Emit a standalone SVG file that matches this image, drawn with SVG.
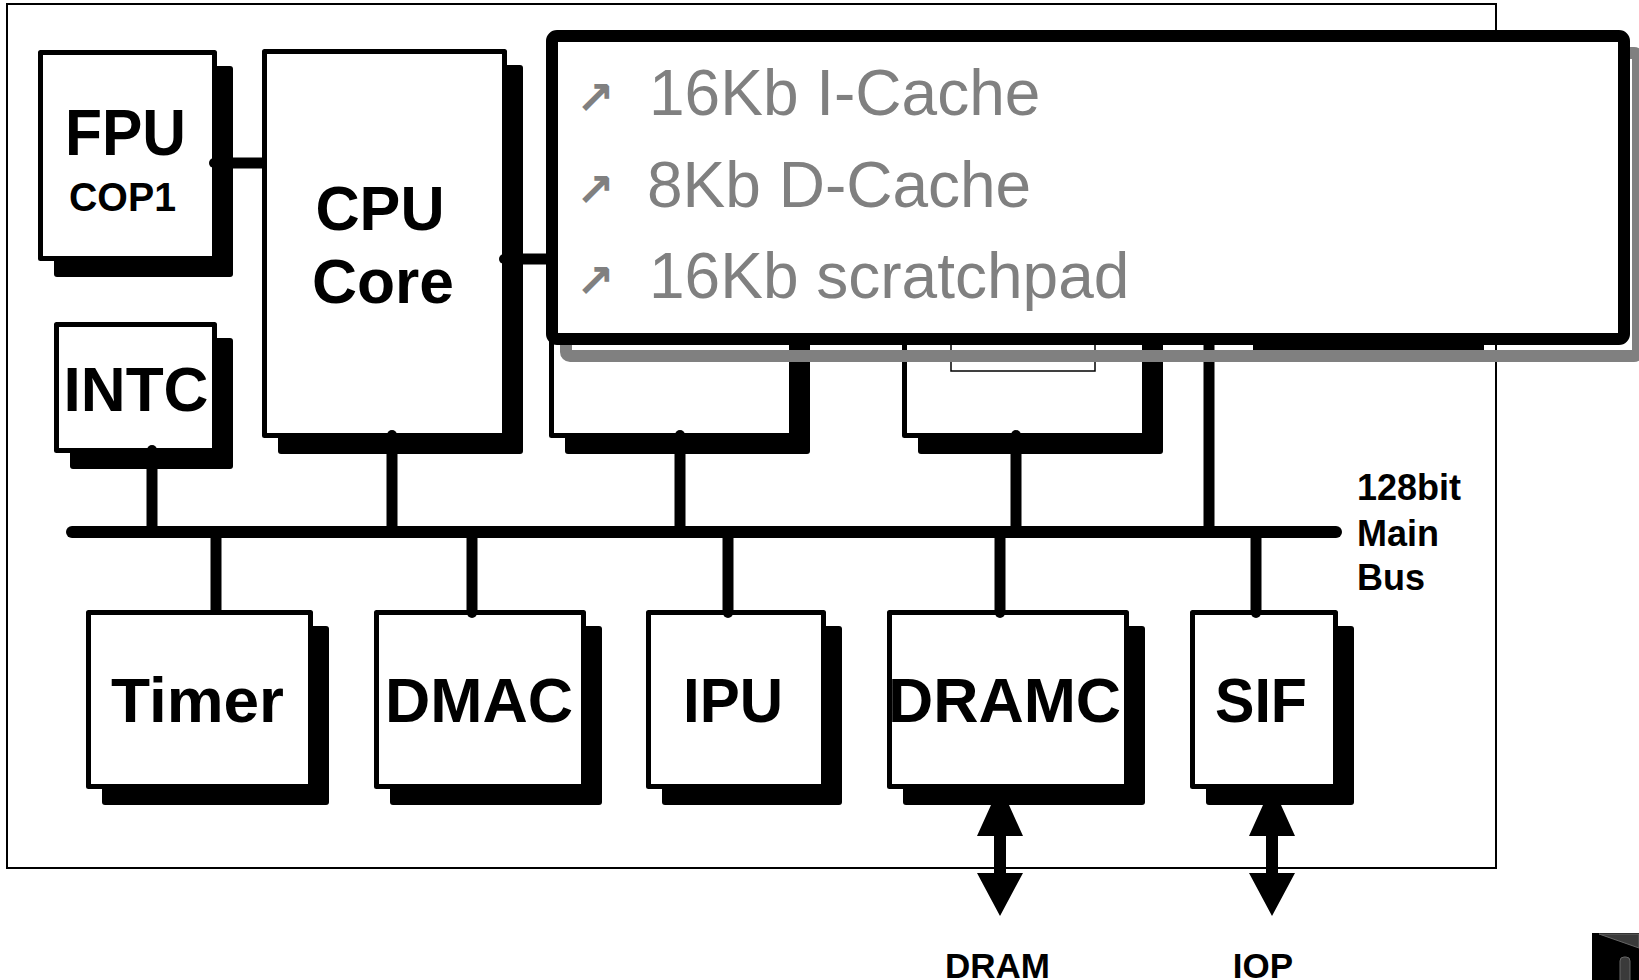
<svg xmlns="http://www.w3.org/2000/svg" width="1639" height="980" viewBox="0 0 1639 980">
<style>
.shadow{fill:#000}
.box{fill:#fff;stroke:#000;stroke-width:5;stroke-linejoin:round}
.lbl{font-family:"Liberation Sans",Arial,sans-serif;font-weight:bold;fill:#000;text-anchor:middle}
.side{font-family:"Liberation Sans",Arial,sans-serif;font-weight:bold;fill:#000;font-size:36px}
.wire{stroke:#000;stroke-width:11;fill:none}
.dot{fill:#000}
.item{font-family:"Liberation Sans",Arial,sans-serif;fill:#808080;font-size:64px}
.bul{font-family:"DejaVu Sans",sans-serif;font-weight:bold;fill:#808080;font-size:46px}
</style>
<defs>
<path id="dbl" d="M-9,805 L9,805 L23,836 L6,836 L6,873 L23,873 L0,916 L-23,873 L-6,873 L-6,836 L-23,836 Z" fill="#000"/>
</defs>
<rect x="7" y="4" width="1489" height="864" fill="#fff" stroke="#000" stroke-width="2"/>

<g id="fpu">
<rect class="shadow" x="54" y="66" width="179" height="211" rx="3"/>
<rect class="box" x="40.5" y="52.5" width="174" height="206"/>
<text class="lbl" x="125.5" y="155" font-size="65" textLength="121" lengthAdjust="spacingAndGlyphs">FPU</text>
<text class="lbl" x="122.5" y="211" font-size="41" textLength="107" lengthAdjust="spacingAndGlyphs">COP1</text>
</g>
<g id="cpu">
<rect class="shadow" x="278" y="65" width="245" height="389" rx="3"/>
<rect class="box" x="264.5" y="51.5" width="240" height="384"/>
<text class="lbl" x="380" y="230" font-size="63" textLength="129" lengthAdjust="spacingAndGlyphs">CPU</text>
<text class="lbl" x="383" y="303" font-size="63" textLength="142" lengthAdjust="spacingAndGlyphs">Core</text>
</g>
<g id="intc">
<rect class="shadow" x="70" y="338" width="163" height="131" rx="3"/>
<rect class="box" x="56.5" y="324.5" width="158" height="126"/>
<text class="lbl" x="136" y="411" font-size="63" textLength="145" lengthAdjust="spacingAndGlyphs">INTC</text>
</g>
<g id="box-a">
<rect class="shadow" x="565" y="65" width="245" height="389" rx="3"/>
<rect class="box" x="551.5" y="51.5" width="240" height="384"/>
</g>
<g id="box-b">
<rect class="shadow" x="918" y="65" width="245" height="389" rx="3"/>
<rect class="box" x="904.5" y="51.5" width="240" height="384"/>
<rect x="951" y="290" width="144" height="81" fill="none" stroke="#000" stroke-width="1.5"/>
</g>
<g id="hidden-strip">
<rect x="1253" y="330" width="231" height="22" fill="#000"/>
</g>
<g id="timer">
<rect class="shadow" x="102" y="626" width="227" height="179" rx="3"/>
<rect class="box" x="88.5" y="612.5" width="222" height="174"/>
<text class="lbl" x="197.5" y="722" font-size="63" textLength="173" lengthAdjust="spacingAndGlyphs">Timer</text>
</g>
<g id="dmac">
<rect class="shadow" x="390" y="626" width="212" height="179" rx="3"/>
<rect class="box" x="376.5" y="612.5" width="207" height="174"/>
<text class="lbl" x="479" y="722" font-size="63" textLength="188" lengthAdjust="spacingAndGlyphs">DMAC</text>
</g>
<g id="ipu">
<rect class="shadow" x="662" y="626" width="180" height="179" rx="3"/>
<rect class="box" x="648.5" y="612.5" width="175" height="174"/>
<text class="lbl" x="733" y="722" font-size="63" textLength="100" lengthAdjust="spacingAndGlyphs">IPU</text>
</g>
<g id="dramc">
<rect class="shadow" x="903" y="626" width="242" height="179" rx="3"/>
<rect class="box" x="889.5" y="612.5" width="237" height="174"/>
<text class="lbl" x="1004.5" y="722" font-size="63" textLength="233" lengthAdjust="spacingAndGlyphs">DRAMC</text>
</g>
<g id="sif">
<rect class="shadow" x="1206" y="626" width="148" height="179" rx="3"/>
<rect class="box" x="1192.5" y="612.5" width="143" height="174"/>
<text class="lbl" x="1261" y="722" font-size="63" textLength="92" lengthAdjust="spacingAndGlyphs">SIF</text>
</g>

<g id="connectors">
<line x1="72" y1="532" x2="1336" y2="532" stroke="#000" stroke-width="12" stroke-linecap="round"/>
<line class="wire" x1="214" y1="163" x2="264" y2="163"/>
<line class="wire" x1="504" y1="259" x2="552" y2="259"/>
<line class="wire" x1="152" y1="450" x2="152" y2="532"/>
<line class="wire" x1="392" y1="435" x2="392" y2="532"/>
<line class="wire" x1="680" y1="435" x2="680" y2="532"/>
<line class="wire" x1="1016" y1="435" x2="1016" y2="532"/>
<line class="wire" x1="1209" y1="330" x2="1209" y2="532"/>
<line class="wire" x1="216" y1="532" x2="216" y2="613"/>
<line class="wire" x1="472" y1="532" x2="472" y2="613"/>
<line class="wire" x1="728" y1="532" x2="728" y2="613"/>
<line class="wire" x1="1000" y1="532" x2="1000" y2="613"/>
<line class="wire" x1="1256" y1="532" x2="1256" y2="613"/>
<circle class="dot" cx="214" cy="163" r="5"/>
<circle class="dot" cx="504" cy="259" r="5"/>
<circle class="dot" cx="152" cy="450" r="5"/>
<circle class="dot" cx="392" cy="435" r="5"/>
<circle class="dot" cx="680" cy="435" r="5"/>
<circle class="dot" cx="1016" cy="435" r="5"/>
<circle class="dot" cx="472" cy="613" r="5"/>
<circle class="dot" cx="728" cy="613" r="5"/>
<circle class="dot" cx="1000" cy="613" r="5"/>
<circle class="dot" cx="1256" cy="613" r="5"/>
<use href="#dbl" x="1000" y="0"/>
<use href="#dbl" x="1272" y="0"/>
</g>

<g id="cache">
<rect x="566" y="53" width="1072" height="303" rx="4" fill="none" stroke="#808080" stroke-width="12"/>
<rect x="552" y="36" width="1072" height="303" rx="5" fill="#fff" stroke="#000" stroke-width="12"/>
<text class="bul" x="576" y="114">↗</text>
<text class="bul" x="576" y="206">↗</text>
<text class="bul" x="576" y="297">↗</text>
<text class="item" x="649" y="115">16Kb I-Cache</text>
<text class="item" x="647" y="207">8Kb D-Cache</text>
<text class="item" x="649" y="298">16Kb scratchpad</text>
</g>

<g id="bus-label">
<text class="side" x="1357" y="500">128bit</text>
<text class="side" x="1357" y="546">Main</text>
<text class="side" x="1357" y="590">Bus</text>
</g>
<g id="dram-label"><text class="lbl" x="997.5" y="978" font-size="35" textLength="105" lengthAdjust="spacingAndGlyphs">DRAM</text></g>
<g id="iop-label"><text class="lbl" x="1263" y="978" font-size="35">IOP</text></g>

<g id="corner-icon">
<rect x="1592" y="933" width="47" height="47" fill="#000"/>
<polygon points="1599,934 1639,934 1639,948" fill="#3a3a3a" stroke="#666" stroke-width="1"/>
<rect x="1620" y="957" width="10" height="30" rx="4" fill="#3a3a3a" stroke="#666" stroke-width="1"/>
</g>
</svg>
